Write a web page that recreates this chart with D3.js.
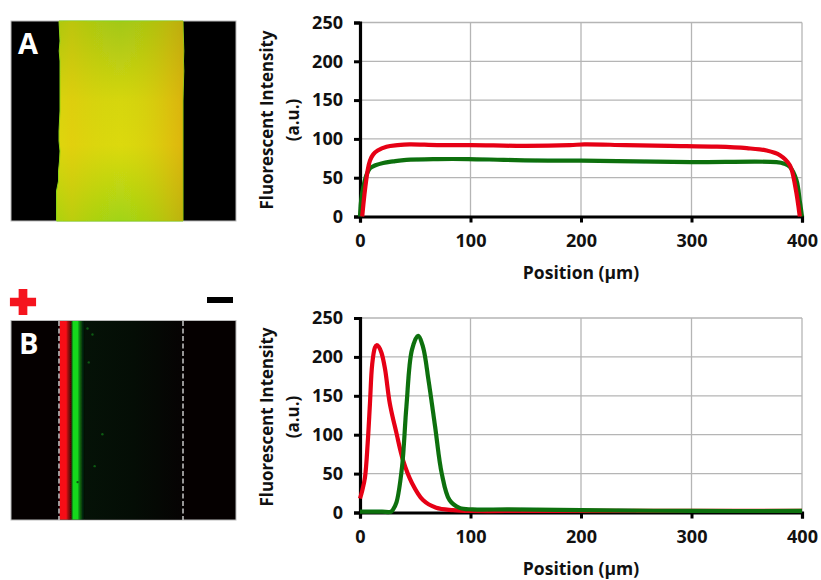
<!DOCTYPE html>
<html><head><meta charset="utf-8">
<script src="https://cdn.jsdelivr.net/npm/d3@7"></script>
<style>
html,body{margin:0;padding:0;background:#fff}
svg{display:block}
text{font-family:"Open Sans",sans-serif;font-weight:700;fill:#111}
</style></head><body>
<svg id="c" width="821" height="580"></svg>
<script>
const xTicks=[0,100,200,300,400];
const yTicks=[0,50,100,150,200,250];
const yTitle=["Fluorescent Intensity","(a.u.)"];
const xTitle="Position (µm)";
const panelLabels=["A","B"];

const posARed=[2,4,7,9,12,16,24,34,45,70,100,150,190,203,240,280,323,350,368,380,389,394,398];
const valARed=[0,28,60,72,80,85,90,92,93,92,92,91,92,93,92,91,90,88,85,79,66,38,0];
const posAGreen=[0,1,3,6,9,14,21,30,42,70,98,130,170,200,250,300,377,384,389,395,398,400];
const valAGreen=[0,20,38,54,62,66,69,71,73,74,74,73,72,72,71,70,70,68,64,47,20,0];

const posBRed=[0,2,4.5,7,9,11,13.5,15,17,19.5,22.6,27,33,39,47,57,69,84,100,150,200,300,400];
const valBRed=[18,28,45,90,140,190,212,215,213,205,185,140,102,67,38,16,6,3,2,2,2,2,2];
const posBGreen=[0,10,20,28,30,33,38,42,47,52.5,57,62,68,74,81,90,102,135,200,300,400];
const valBGreen=[1,1,1,1,4,13,58,136,209,227,213,170,110,50,16,6,4,4,3,2,2];

const edgeY=[0,5,10,15,20,25,30,35,40,45,50,55,60,65,70,75,80,85,90,95,100];
const edgeLeftA=[0,0.5,1,0.2,1,1,1,1,1,1,0.5,0,0,1,0.5,-0.5,-0.5,-1,-1,-1,-1];
const edgeRightA=[0,0.2,0.5,0.8,0.5,0.8,0.5,0.2,0,0,0,0,0,0,0,0,0,0,0,0,0];
const dotPos=[62,78,66,110,85,30];
const dotRow=[4,7,21,57,73,81];

const red="#e60012", green="#0b700f";
const svg=d3.select("#c");
const defs=svg.append("defs");
const blur=defs.append("filter").attr("id","soft");
blur.append("feGaussianBlur").attr("stdDeviation",0.5);
const lineBlur=defs.append("filter").attr("id","lineSoft").attr("filterUnits","userSpaceOnUse").attr("x",0).attr("y",0).attr("width",821).attr("height",580);
lineBlur.append("feGaussianBlur").attr("stdDeviation",0.35);

function grad(id,x2,y2,stops){
  const g=defs.append("linearGradient").attr("id",id).attr("x1",0).attr("y1",0).attr("x2",x2).attr("y2",y2);
  stops.forEach(s=>g.append("stop").attr("offset",s[0]).attr("stop-color",s[1]).attr("stop-opacity",s[2]===undefined?1:s[2]));
}
grad("fillV",0,1,[[0,"#a3c815"],[0.15,"#b6cc14"],[0.4,"#d6d60e"],[0.62,"#dcd90f"],[0.82,"#bfd612"],[1,"#a2d414"]]);
grad("fillH",1,0,[[0,"#e6c800",0.15],[0.12,"#ecc000",0.35],[0.5,"#c8d000",0],[0.88,"#e0a000",0.4],[1,"#e08800",0.45]]);
grad("bandB",1,0,[[0,"#f51018"],[0.26,"#f80f18"],[0.34,"#a00c0c"],[0.45,"#4a0606"],[0.5,"#0d5a12"],[0.54,"#12d81c"],[0.72,"#12d81c"],[0.82,"#0c6e12"],[0.92,"#062a0a"],[1,"#051207"]]);
grad("hazeB",1,0,[[0,"#051207"],[0.5,"#040d05"],[1,"#060303"]]);

/* photo panel A */
const imgX=d3.scaleLinear().domain([0,400]).range([59,183]);
const imgAY=d3.scaleLinear().domain([0,100]).range([21,221]);
const gA=svg.append("g");
gA.append("rect").attr("x",11).attr("y",21).attr("width",225).attr("height",200).attr("fill","#000").attr("stroke","#bbb").attr("stroke-width",1);
const band=d3.area().y(d=>imgAY(d[0])).x0(d=>imgX(0)+d[1]*1+(d[0]>=85?-1.5:0)).x1(d=>imgX(400)+d[2]);
const bandData=edgeY.map((y,i)=>[y,edgeLeftA[i],edgeRightA[i]]);
const bandG=gA.append("g").attr("filter","url(#soft)");
bandG.append("path").datum(bandData).attr("d",band).attr("fill","url(#fillV)").attr("stroke","#84d61a").attr("stroke-width",1);
bandG.append("path").datum(bandData).attr("d",band).attr("fill","url(#fillH)");

/* photo panel B */
const imgBY=d3.scaleLinear().domain([0,100]).range([320.5,520]);
const gB=svg.append("g");
gB.append("rect").attr("x",11).attr("y",320.5).attr("width",225).attr("height",199.5).attr("fill","#050000").attr("stroke","#bbb").attr("stroke-width",1);
gB.append("rect").attr("x",imgX(82)).attr("y",321).attr("width",imgX(400)-imgX(82)).attr("height",198.5).attr("fill","url(#hazeB)");
gB.append("rect").attr("x",imgX(2)).attr("y",321).attr("width",imgX(82)-imgX(2)).attr("height",198.5).attr("fill","url(#bandB)").attr("filter","url(#soft)");
gB.selectAll("circle").data(d3.zip(dotPos,dotRow)).join("circle")
  .attr("cx",d=>imgX(d[0]+30)).attr("cy",d=>imgBY(d[1])).attr("r",1.2).attr("fill","#0d5a12");
[0,400].forEach(p=>gB.append("line").attr("x1",imgX(p)).attr("x2",imgX(p)).attr("y1",321).attr("y2",520).attr("stroke","#c8c8c8").attr("stroke-width",1.5).attr("stroke-dasharray","5 2.5"));

/* polarity marks */
const symbolG=svg.append("g");
symbolG.append("path").attr("transform","translate(23,302)").attr("fill","#f5141e")
  .attr("d",d3.symbol(d3.symbolCross,380)());
symbolG.append("rect").attr("x",207).attr("y",297).attr("width",26).attr("height",6).attr("fill","#000");

svg.append("text").attr("x",18).attr("y",54).attr("font-size",29).style("fill","#fff").text(panelLabels[0]);
svg.append("text").attr("x",19).attr("y",354).attr("font-size",29).style("fill","#fff").text(panelLabels[1]);

/* charts */
function chart(y0,y250,series,titleY){
  const x=d3.scaleLinear().domain([0,400]).range([360,802]);
  const y=d3.scaleLinear().domain([0,250]).range([y0,y250]);
  const g=svg.append("g");
  g.selectAll("line.h").data(yTicks.slice(1)).join("line").attr("x1",360).attr("x2",802)
    .attr("y1",d=>y(d)).attr("y2",d=>y(d)).attr("stroke","#b5b5b5").attr("stroke-width",1.3);
  g.selectAll("line.v").data(xTicks.slice(1)).join("line").attr("y1",y0).attr("y2",y250)
    .attr("x1",d=>x(d)).attr("x2",d=>x(d)).attr("stroke","#b5b5b5").attr("stroke-width",1.3);
  const line=d3.line().x(d=>x(d[0])).y(d=>y(d[1])).curve(d3.curveCatmullRom.alpha(0.5));
  const ax=g.append("g").attr("transform",`translate(0,${y0})`).call(d3.axisBottom(x).tickValues(xTicks).tickSize(6).tickPadding(12));
  const ay=g.append("g").attr("transform","translate(360,0)").call(d3.axisLeft(y).tickValues(yTicks).tickSize(6).tickPadding(11));
  [ax,ay].forEach(a=>{
    a.selectAll("path").attr("stroke","#000").attr("stroke-width",3.2);
    a.selectAll("line").attr("stroke","#000").attr("stroke-width",3);
    a.selectAll("text").attr("font-size",18).style("font-family",'"Open Sans",sans-serif').style("font-weight",700).attr("fill","#111");
  });
  series.forEach(s=>{
    g.append("path").datum(d3.zip(s.x,s.y)).attr("d",line).attr("fill","none").attr("stroke",s.c).attr("stroke-width",4.2).attr("stroke-linejoin","round").attr("filter","url(#lineSoft)");
  });
  g.append("text").attr("text-anchor","middle").attr("font-size",16.9)
    .attr("transform",`translate(273,${titleY}) rotate(-90)`).text(yTitle[0]);
  g.append("text").attr("text-anchor","middle").attr("font-size",16.9)
    .attr("transform",`translate(299,${titleY}) rotate(-90)`).text(yTitle[1]);
  g.append("text").attr("text-anchor","middle").attr("font-size",17.5).attr("x",581).attr("y",y0+62).text(xTitle);
}
chart(216.5,22.5,[{x:posAGreen,y:valAGreen,c:green},{x:posARed,y:valARed,c:red}],120);
chart(512.5,318,[{x:posBRed,y:valBRed,c:red},{x:posBGreen,y:valBGreen,c:green}],417);
</script>
</body></html>
